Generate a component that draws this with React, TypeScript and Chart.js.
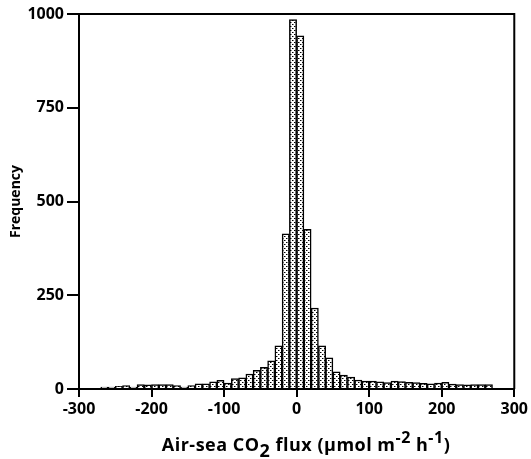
import React, { useEffect, useRef } from "react";
import { Chart, registerables } from "chart.js";

Chart.register(...registerables);

// Bin lower edges (width 10) of the air-sea CO2 flux histogram
const binStarts = [
  -270, -260, -250, -240, -230, -220, -210, -200, -190, -180,
  -170, -160, -150, -140, -130, -120, -110, -100, -90, -80,
  -70, -60, -50, -40, -30, -20, -10, 0, 10, 20,
  30, 40, 50, 60, 70, 80, 90, 100, 110, 120,
  130, 140, 150, 160, 170, 180, 190, 200, 210, 220,
  230, 240, 250, 260,
];
const binWidth = 10;
const frequency = [
  5, 5, 7, 9, 5, 12, 11, 12, 12, 12,
  9, 5, 9, 14, 14, 19, 23, 16, 28, 30,
  40, 50, 58, 75, 115, 414, 985, 942, 426, 216,
  115, 83, 46, 37, 32, 24, 21, 21, 19, 17,
  21, 20, 18, 17, 15, 14, 16, 18, 13, 12,
  11, 12, 12, 12,
];
const xTicks = [-300, -200, -100, 0, 100, 200, 300];
const yTicks = [0, 250, 500, 750, 1000];
const yTitle = "Frequency";
// x title as rich segments: [text, kind]
const xTitleParts: [string, "n" | "sub" | "sup"][] = [
  ["Air-sea CO", "n"],
  ["2", "sub"],
  [" flux (\u03bcmol m", "n"],
  ["-2", "sup"],
  [" h", "n"],
  ["-1", "sup"],
  [")", "n"],
];

const FONT = "'Open Sans', 'DejaVu Sans', sans-serif";

function makePattern(): CanvasPattern | string {
  const c = document.createElement("canvas");
  c.width = 4;
  c.height = 4;
  const g = c.getContext("2d");
  if (!g) return "#ccc";
  g.fillStyle = "#fff";
  g.fillRect(0, 0, 4, 4);
  g.fillStyle = "#000";
  g.fillRect(0, 0, 1, 1);
  g.fillRect(2, 2, 1, 1);
  g.fillStyle = "#888";
  g.fillRect(1, 0, 1, 1);
  g.fillRect(3, 2, 1, 1);
  const p = g.createPattern(c, "repeat");
  return p || "#ccc";
}

const framePlugin = {
  id: "frame",
  afterDraw(chart: any) {
    const { ctx, chartArea } = chart;
    ctx.save();
    ctx.strokeStyle = "#000";
    ctx.lineWidth = 2;
    ctx.beginPath();
    ctx.moveTo(chartArea.left, chartArea.top);
    ctx.lineTo(chartArea.right, chartArea.top);
    ctx.lineTo(chartArea.right, chartArea.bottom);
    ctx.stroke();
    ctx.restore();
  },
};

const xTitlePlugin = {
  id: "xTitleRich",
  afterDraw(chart: any) {
    const { ctx } = chart;
    const base = 451;
    const cx = 306;
    ctx.save();
    ctx.fillStyle = "#000";
    ctx.textBaseline = "alphabetic";
    ctx.textAlign = "left";
    try {
      (ctx as any).letterSpacing = "0.5px";
    } catch (e) {}
    const fontFor = (k: string) =>
      k === "sup" ? `bold 16px ${FONT}` : `bold 18px ${FONT}`;
    let total = 0;
    for (const [t, k] of xTitleParts) {
      ctx.font = fontFor(k);
      total += ctx.measureText(t).width;
    }
    let x = cx - total / 2;
    for (const [t, k] of xTitleParts) {
      ctx.font = fontFor(k);
      const y = k === "sub" ? base + 6 : k === "sup" ? base - 8 : base;
      ctx.fillText(t, x, y);
      x += ctx.measureText(t).width;
    }
    ctx.restore();
  },
};

export default function App() {
  const ref = useRef<HTMLCanvasElement | null>(null);
  useEffect(() => {
    if (!ref.current) return;
    const pattern = makePattern();
    const data = binStarts.map((s, i) => ({ x: s + binWidth / 2, y: frequency[i] }));
    const tickFont = { family: FONT, size: 16, weight: "bold" as const };
    const chart = new Chart(ref.current, {
      type: "bar",
      data: {
        datasets: [
          {
            data: data as any,
            backgroundColor: pattern as any,
            borderColor: "#000",
            borderWidth: 1.5,
            barPercentage: 1,
            categoryPercentage: 1,
          },
        ],
      },
      options: {
        animation: false,
        responsive: false,
        maintainAspectRatio: false,
        layout: { padding: { top: 14, right: 15, left: 0, bottom: 0 } },
        plugins: { legend: { display: false }, tooltip: { enabled: false } },
        scales: {
          x: {
            type: "linear",
            offset: false,
            min: xTicks[0],
            max: xTicks[xTicks.length - 1],
            afterBuildTicks: (s: any) => {
              s.ticks = xTicks.map((v) => ({ value: v }));
            },
            ticks: {
              color: "#000",
              font: tickFont,
              padding: 3,
              maxRotation: 0,
              autoSkip: false,
              callback: (v: any) => String(v),
            },
            grid: { offset: false, drawOnChartArea: false, drawTicks: true, tickLength: 8, color: "#000", lineWidth: 2 },
            border: { display: true, color: "#000", width: 2 },
            afterFit: (s: any) => {
              s.height = 70;
            },
          },
          y: {
            min: yTicks[0],
            max: yTicks[yTicks.length - 1],
            afterBuildTicks: (s: any) => {
              s.ticks = yTicks.map((v) => ({ value: v }));
            },
            ticks: { color: "#000", font: tickFont, padding: 3, callback: (v: any) => String(v) },
            grid: { drawOnChartArea: false, drawTicks: true, tickLength: 12, color: "#000", lineWidth: 2 },
            border: { display: true, color: "#000", width: 2 },
            title: {
              display: true,
              text: yTitle,
              color: "#000",
              font: { family: FONT, size: 14, weight: "bold" },
              padding: { top: 8, bottom: 0 },
            },
            afterFit: (s: any) => {
              s.width = 79;
            },
          },
        },
      },
      plugins: [framePlugin, xTitlePlugin],
    });
    return () => chart.destroy();
  }, []);
  return (
    <div style={{ position: "fixed", left: 0, top: 0, width: 531, height: 459, background: "#fff" }}>
      <canvas ref={ref} width={531} height={459} style={{ display: "block" }} />
    </div>
  );
}
